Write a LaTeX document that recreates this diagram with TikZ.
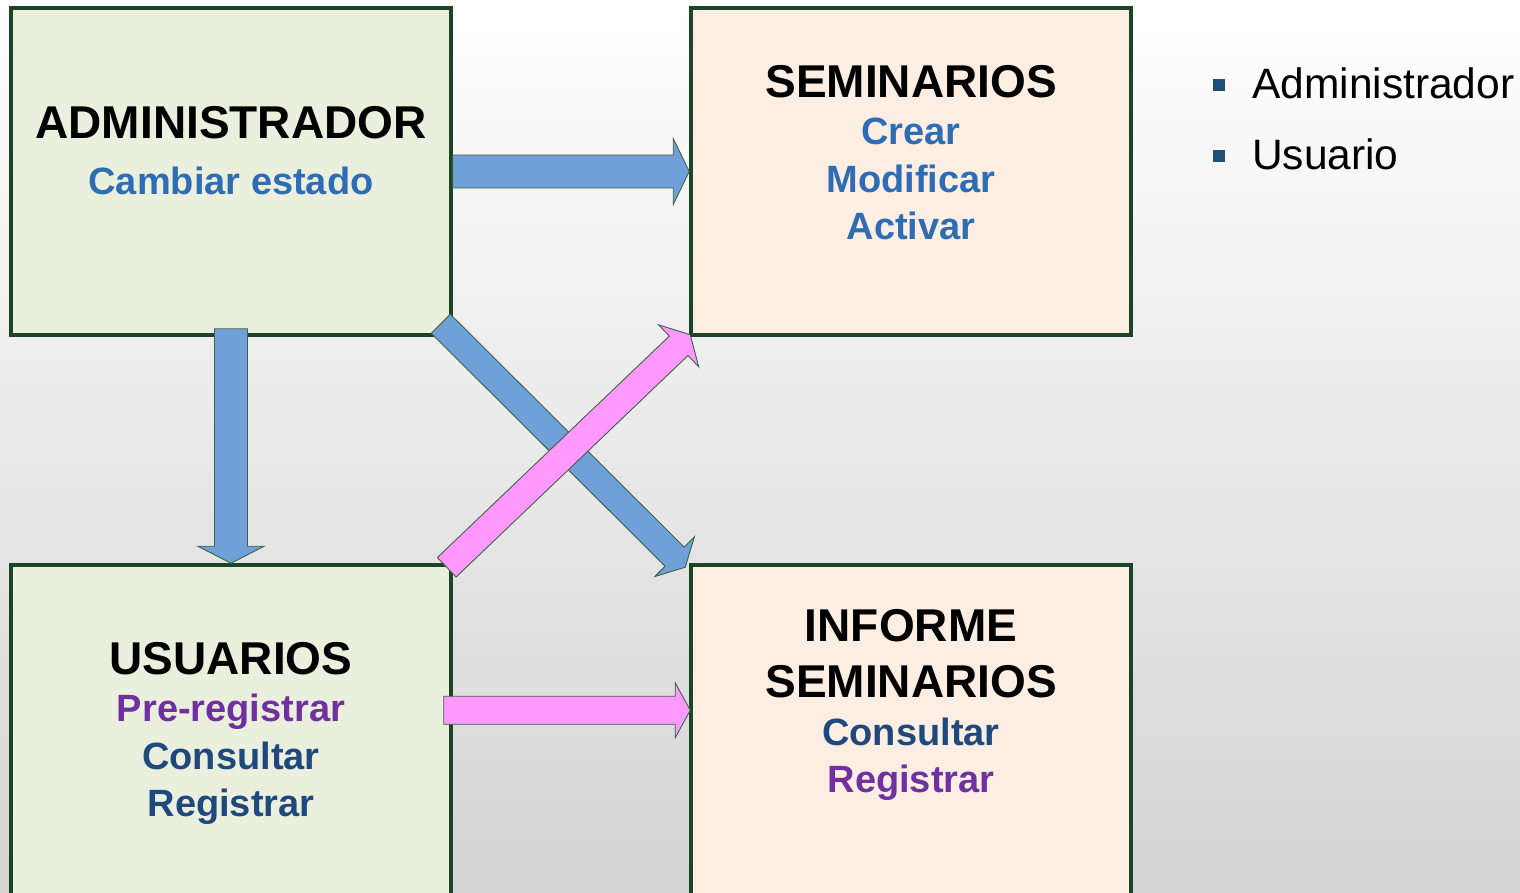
\documentclass[tikz,border=0pt]{standalone}
\usepackage{fontspec}
\setmainfont{Liberation Sans}
\usetikzlibrary{calc}

\definecolor{verdecaja}{HTML}{EBF0DE}
\definecolor{naranjacaja}{HTML}{FCEEE3}
\definecolor{bordecaja}{HTML}{1C4527}
\definecolor{flechaazul}{HTML}{6FA0D8}
\definecolor{flecharosa}{HTML}{FF99FF}
\definecolor{azulclaro}{HTML}{2E6DB4}
\definecolor{azuloscuro}{HTML}{1F497D}
\definecolor{morado}{HTML}{7030A0}
\definecolor{bala}{HTML}{1F4E79}
\definecolor{fondo}{HTML}{D4D4D4}

\newcommand{\grande}{\fontsize{46}{47.5}\selectfont}
% flecha de bloque: color, desde, hasta, medio ancho, medio ancho punta, largo punta
\newcommand{\flecha}[6]{%
  \coordinate (fb) at ($(#3)!#6!(#2)$);
  \draw[contorno, fill=#1] ($(#2)!#4!90:(#3)$) -- ($(fb)!#4!90:(#3)$) -- ($(fb)!#5!90:(#3)$) -- (#3)
    -- ($(fb)!#5!-90:(#3)$) -- ($(fb)!#4!-90:(#3)$) -- ($(#2)!#4!-90:(#3)$) -- cycle;}

\begin{document}
\begin{tikzpicture}[x=1pt,y=-1pt,
  caja/.style={draw=bordecaja, line width=3.5pt, minimum width=440pt, minimum height=327pt, inner sep=0pt},
  texto/.style={align=center, anchor=north, inner sep=0pt, font=\fontsize{38}{47.5}\selectfont\bfseries},
  contorno/.style={draw=bordecaja!85, line width=0.9pt, line join=miter},
  leyenda/.style={anchor=base west, inner sep=0pt, font=\fontsize{42.5}{50}\selectfont}]
	\useasboundingbox (0,0) rectangle (1520,892);
	\shade[top color=white, bottom color=fondo] (0,0) rectangle (1520,892);

	% cajas
	\node[caja, fill=verdecaja] (admin) at (231,171.5) {};
	\node[caja, fill=naranjacaja] (semin) at (911,171.5) {};
	\node[caja, fill=verdecaja, minimum height=345pt] (usuarios) at (231,737.5) {};
	\node[caja, fill=naranjacaja, minimum height=345pt] (informe) at (911,737.5) {};

	\node[texto] (tadmin) at (231,106) {{\grande ADMINISTRADOR}\\[9pt] \textcolor{azulclaro}{Cambiar estado}};
	\node[texto] (tsemin) at (911,65) {{\grande SEMINARIOS}\\ \textcolor{azulclaro}{Crear}\\ \textcolor{azulclaro}{Modificar}\\ \textcolor{azulclaro}{Activar}};
	\node[texto] (tusuarios) at (231,642) {{\grande USUARIOS}\\ \textcolor{morado}{Pre-registrar}\\ \textcolor{azuloscuro}{Consultar}\\ \textcolor{azuloscuro}{Registrar}};
	\node[texto] (tinforme) at (911,609) {{\grande INFORME}\\[9pt] {\grande SEMINARIOS}\\ \textcolor{azuloscuro}{Consultar}\\ \textcolor{morado}{Registrar}};

	% flechas
	\coordinate (a2) at ($(admin.south)+(0,-8)$);
	\coordinate (a3) at ($(admin.south east)+(-12,-13)$);
	\coordinate (b3) at ($(informe.north west)+(-4,4)$);
	\coordinate (a4) at ($(usuarios.north east)+(-6,4)$);
	\coordinate (b4) at ($(semin.south west)+(1,-2)$);
	\coordinate (a5) at ($(usuarios.north east)+(-9,147)$);
	\coordinate (b5) at ($(informe.north west)+(1,147)$);
	\flecha{flechaazul}{admin.east}{semin.west}{16.5pt}{33pt}{16pt}
	\flecha{flechaazul}{a2}{usuarios.north}{16.5pt}{33pt}{17pt}
	\flecha{flechaazul}{a3}{b3}{13.5pt}{28pt}{15pt}
	\flecha{flecharosa}{a4}{b4}{13.5pt}{29pt}{16pt}
	\flecha{flecharosa}{a5}{b5}{14pt}{27.5pt}{15pt}

	% leyenda
	\node[leyenda] (ley1) at (1252,98) {Administrador};
	\node[leyenda] (ley2) at (1252,169) {Usuario};
	\fill[bala] ($(ley1.base west)+(-39,-19)$) rectangle +(12,12);
	\fill[bala] ($(ley2.base west)+(-39,-19)$) rectangle +(12,12);
\end{tikzpicture}
\end{document}
